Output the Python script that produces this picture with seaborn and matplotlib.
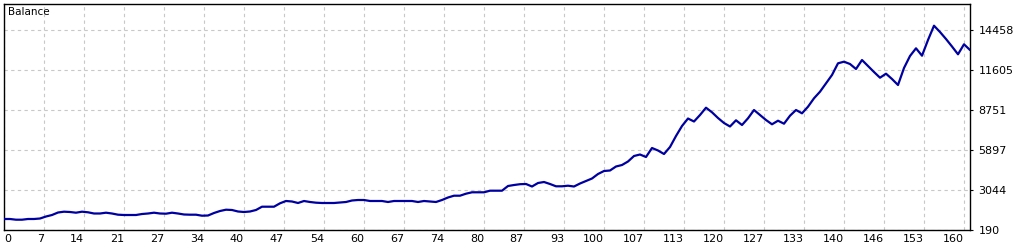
import matplotlib
matplotlib.use("Agg")
import matplotlib.pyplot as plt
import seaborn as sns
import pandas as pd
import numpy as np

# ---- data ----
balance = [
    975, 975, 925, 925, 975, 975, 1010, 1153, 1260, 1438,
    1496, 1474, 1424, 1496, 1453, 1367, 1367, 1424, 1367, 1282,
    1260, 1260, 1260, 1331, 1367, 1424, 1367, 1353, 1424, 1367,
    1296, 1282, 1282, 1210, 1224, 1403, 1545, 1638, 1617, 1510,
    1474, 1510, 1617, 1852, 1852, 1852, 2095, 2259, 2223, 2116,
    2259, 2188, 2138, 2116, 2116, 2116, 2152, 2188, 2295, 2330,
    2330, 2259, 2259, 2259, 2188, 2259, 2259, 2259, 2259, 2188,
    2259, 2223, 2188, 2330, 2509, 2637, 2637, 2780, 2880, 2880,
    2880, 2994, 2994, 2994, 3329, 3400, 3457, 3472, 3293, 3543,
    3614, 3472, 3308, 3308, 3350, 3293, 3507, 3686, 3864, 4185,
    4399, 4435, 4720, 4827, 5077, 5469, 5576, 5398, 6040, 5862,
    5612, 6111, 6896, 7609, 8144, 7930, 8394, 8915, 8587, 8180,
    7823, 7574, 8016, 7681, 8159, 8751, 8394, 8037, 7731, 7987,
    7773, 8344, 8751, 8515, 8986, 9586, 10056, 10655, 11248, 12082,
    12197, 12032, 11676, 12318, 11890, 11462, 11055, 11341, 10962, 10534,
    11747, 12603, 13153, 12625, 13745, 14765, 14315, 13816, 13281, 12725,
    13438, 13031,
]
trade_index = list(range(len(balance)))

x_tick_labels = ["0", "7", "14", "21", "27", "34", "40", "47", "54", "60",
                 "67", "74", "80", "87", "93", "100", "107", "113", "120",
                 "127", "133", "140", "146", "153", "160"]
y_tick_values = [190, 3044, 5897, 8751, 11605, 14458]
y_top = 16313
x_max = 161
title = "Balance"

df = pd.DataFrame({"trade": trade_index, "balance": balance})

sns.set_style("white")
plt.rcParams["font.family"] = ["DejaVu Sans"]

fig = plt.figure(figsize=(10.25, 2.5), dpi=100)
ax = fig.add_axes([4 / 1025, 20 / 250, 966 / 1025, 226 / 250])

sns.lineplot(data=df, x="trade", y="balance", ax=ax, color="#0000a0",
             linewidth=1.6, zorder=3)

ax.set_xlim(0, x_max)
ax.set_ylim(y_tick_values[0], y_top)

x_pos = [i * 20 / 3 for i in range(len(x_tick_labels))]
ax.set_xticks(x_pos)
ax.set_xticklabels(x_tick_labels)
for i, lab in enumerate(ax.get_xticklabels()):
    lab.set_ha("left" if i == 0 else "right")
    lab.set_fontsize(8)
    lab.set_color("#000000")

ax.set_yticks(y_tick_values)
ax.set_yticklabels([str(v) for v in y_tick_values])
ax.yaxis.tick_right()
ax.tick_params(axis="y", which="both", length=2, width=0.8, pad=4,
               labelsize=8, colors="#000000", right=True, left=False)
ax.tick_params(axis="x", length=0, pad=3, labelsize=8, colors="#000000")
for lab in ax.get_yticklabels():
    lab.set_ha("left")

ax.grid(True, color="#c8c8c8", linestyle=(0, (3, 3)), linewidth=0.8, zorder=0)
for s in ax.spines.values():
    s.set_color("#000000")
    s.set_linewidth(1.0)

ax.set_xlabel("")
ax.set_ylabel("")
ax.text(0.004, 0.985, title, transform=ax.transAxes, ha="left", va="top",
        fontsize=7.5, color="#000000")

fig.savefig("out.png", dpi=100, facecolor="white")
